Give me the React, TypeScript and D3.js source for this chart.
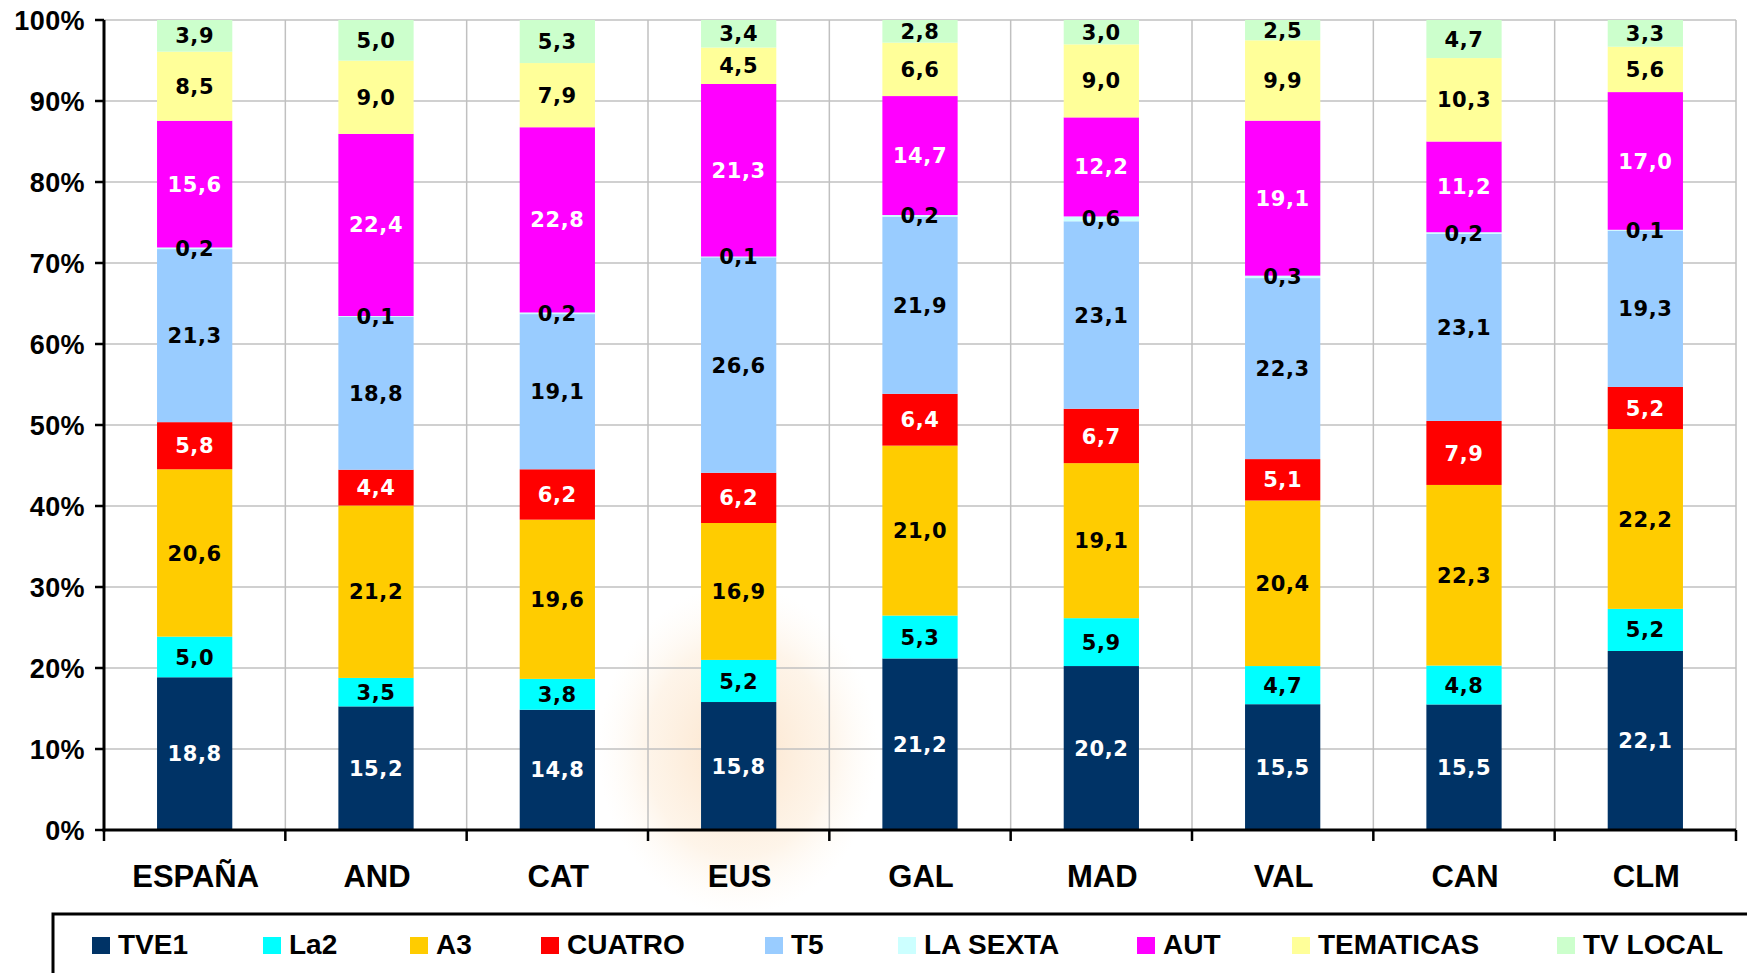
import React, { useEffect, useRef } from 'react';
import * as d3 from 'd3';

// categories (regions) and channels, bottom to top of each stack
const regions = ['ESPAÑA', 'AND', 'CAT', 'EUS', 'GAL', 'MAD', 'VAL', 'CAN', 'CLM'];
const channels = ['TVE1', 'La2', 'A3', 'CUATRO', 'T5', 'LA SEXTA', 'AUT', 'TEMATICAS', 'TV LOCAL'];

const tve1 = [18.8, 15.2, 14.8, 15.8, 21.2, 20.2, 15.5, 15.5, 22.1];
const la2 = [5.0, 3.5, 3.8, 5.2, 5.3, 5.9, 4.7, 4.8, 5.2];
const a3 = [20.6, 21.2, 19.6, 16.9, 21.0, 19.1, 20.4, 22.3, 22.2];
const cuatro = [5.8, 4.4, 6.2, 6.2, 6.4, 6.7, 5.1, 7.9, 5.2];
const t5 = [21.3, 18.8, 19.1, 26.6, 21.9, 23.1, 22.3, 23.1, 19.3];
const laSexta = [0.2, 0.1, 0.2, 0.1, 0.2, 0.6, 0.3, 0.2, 0.1];
const aut = [15.6, 22.4, 22.8, 21.3, 14.7, 12.2, 19.1, 11.2, 17.0];
const tematicas = [8.5, 9.0, 7.9, 4.5, 6.6, 9.0, 9.9, 10.3, 5.6];
const tvLocal = [3.9, 5.0, 5.3, 3.4, 2.8, 3.0, 2.5, 4.7, 3.3];

const yTicks = [0, 10, 20, 30, 40, 50, 60, 70, 80, 90, 100];

const colors = ['#003366', '#00FFFF', '#FFCC00', '#FF0000', '#99CCFF', '#CCFFFF', '#FF00FF', '#FFFF99', '#CCFFCC'];
const labelColors = ['#fff', '#000', '#000', '#fff', '#000', '#000', '#fff', '#000', '#000'];
const legendX = [92, 263, 410, 541, 765, 898, 1137, 1292, 1557];

const W = 1747;
const H = 973;

export default function App() {
  const svgRef = useRef<SVGSVGElement>(null);

  useEffect(() => {
    if (!svgRef.current) return;
    const svg = d3.select(svgRef.current);
    svg.selectAll('*').remove();

    const series = [tve1, la2, a3, cuatro, t5, laSexta, aut, tematicas, tvLocal];
    const rows = regions.map((r, i) => {
      const row: any = { region: r };
      channels.forEach((c, k) => (row[c] = series[k][i]));
      return row;
    });

    const stack = d3.stack<any>().keys(channels).offset(d3.stackOffsetExpand);
    const stacked = stack(rows);

    const left = 104;
    const right = 1736;
    const top = 20;
    const bottom = 830;

    const x = d3.scaleBand().domain(regions).range([left, right]).paddingInner(0.585).paddingOuter(0.2925);
    const y = d3.scaleLinear().domain([0, 1]).range([bottom, top]);
    const step = x.step();

    // faint watermark behind the bars
    const defs = svg.append('defs');
    const grad = defs.append('radialGradient').attr('id', 'wm');
    grad.append('stop').attr('offset', '0%').attr('stop-color', '#f4a04a').attr('stop-opacity', 0.3);
    grad.append('stop').attr('offset', '65%').attr('stop-color', '#f7bd78').attr('stop-opacity', 0.16);
    grad.append('stop').attr('offset', '100%').attr('stop-color', '#fde3c0').attr('stop-opacity', 0);
    svg.append('ellipse').attr('cx', 738).attr('cy', 750).attr('rx', 140).attr('ry', 165).attr('fill', 'url(#wm)');

    // gridlines
    svg.append('g')
      .selectAll('line')
      .data(yTicks.filter((t) => t > 0))
      .enter()
      .append('line')
      .attr('x1', left)
      .attr('x2', right)
      .attr('y1', (d) => y(d / 100))
      .attr('y2', (d) => y(d / 100))
      .attr('stroke', '#c0c0c0')
      .attr('stroke-width', 1.5);

    svg.append('g')
      .selectAll('line')
      .data(d3.range(1, regions.length + 1))
      .enter()
      .append('line')
      .attr('x1', (i) => left + i * step)
      .attr('x2', (i) => left + i * step)
      .attr('y1', top)
      .attr('y2', bottom)
      .attr('stroke', '#c0c0c0')
      .attr('stroke-width', 1.5);

    // bars
    const layers = svg.append('g')
      .selectAll('g')
      .data(stacked)
      .enter()
      .append('g')
      .attr('fill', (_, i) => colors[i]);

    layers.selectAll('rect')
      .data((d) => d)
      .enter()
      .append('rect')
      .attr('x', (d) => x(d.data.region) as number)
      .attr('width', x.bandwidth())
      .attr('y', (d) => y(d[1]))
      .attr('height', (d) => y(d[0]) - y(d[1]));

    // value labels
    const labels = svg.append('g')
      .style('font-family', '"DejaVu Sans", Verdana, sans-serif')
      .style('font-weight', 'bold')
      .style('font-size', '21px')
      .style('letter-spacing', '0.6px')
      .attr('text-anchor', 'middle');

    stacked.forEach((layer, k) => {
      labels.selectAll(null)
        .data(layer)
        .enter()
        .append('text')
        .attr('x', (d) => (x(d.data.region) as number) + x.bandwidth() / 2)
        .attr('y', (d) => (y(d[0]) + y(d[1])) / 2)
        .attr('dy', '0.36em')
        .attr('fill', labelColors[k])
        .text((d) => d3.format('.1f')(d.data[channels[k]]).replace('.', ','));
    });

    // axes
    svg.append('line').attr('x1', left).attr('x2', left).attr('y1', top).attr('y2', bottom + 1.5)
      .attr('stroke', '#000').attr('stroke-width', 3);
    svg.append('line').attr('x1', left - 1.5).attr('x2', right).attr('y1', bottom).attr('y2', bottom)
      .attr('stroke', '#000').attr('stroke-width', 3);

    const yAxis = svg.append('g').style('font-family', '"Liberation Sans", Arial, sans-serif')
      .style('font-weight', 'bold').style('font-size', '27px');
    yAxis.selectAll('line')
      .data(yTicks)
      .enter()
      .append('line')
      .attr('x1', left - 9)
      .attr('x2', left)
      .attr('y1', (d) => y(d / 100))
      .attr('y2', (d) => y(d / 100))
      .attr('stroke', '#000')
      .attr('stroke-width', 2.5);
    yAxis.selectAll('text')
      .data(yTicks)
      .enter()
      .append('text')
      .attr('x', 85)
      .attr('y', (d) => y(d / 100))
      .attr('dy', '0.36em')
      .attr('text-anchor', 'end')
      .style('letter-spacing', '0.4px')
      .text((d) => `${d}%`);

    const xAxis = svg.append('g').style('font-family', '"Liberation Sans", Arial, sans-serif')
      .style('font-weight', 'bold').style('font-size', '31px');
    xAxis.selectAll('line')
      .data(d3.range(0, regions.length + 1))
      .enter()
      .append('line')
      .attr('x1', (i) => left + i * step)
      .attr('x2', (i) => left + i * step)
      .attr('y1', bottom)
      .attr('y2', bottom + 11)
      .attr('stroke', '#000')
      .attr('stroke-width', 2.5);
    xAxis.selectAll('text')
      .data(regions)
      .enter()
      .append('text')
      .attr('x', (d) => (x(d) as number) + x.bandwidth() / 2 + 1)
      .attr('y', 887)
      .attr('text-anchor', 'middle')
      .text((d) => d);

    // legend
    svg.append('rect').attr('x', 53).attr('y', 914).attr('width', 1760).attr('height', 100)
      .attr('fill', 'none').attr('stroke', '#000').attr('stroke-width', 3);
    const legend = svg.append('g').style('font-family', '"Liberation Sans", Arial, sans-serif')
      .style('font-weight', 'bold').style('font-size', '28px');
    channels.forEach((c, i) => {
      legend.append('rect').attr('x', legendX[i]).attr('y', 937).attr('width', 18).attr('height', 17)
        .attr('fill', colors[i]);
      legend.append('text').attr('x', legendX[i] + 26).attr('y', 954).text(c);
    });
  }, []);

  return (
    <div style={{ position: 'absolute', left: 0, top: 0, width: W, height: H, overflow: 'hidden', background: '#fff' }}>
      <svg ref={svgRef} width={W} height={H}></svg>
    </div>
  );
}
